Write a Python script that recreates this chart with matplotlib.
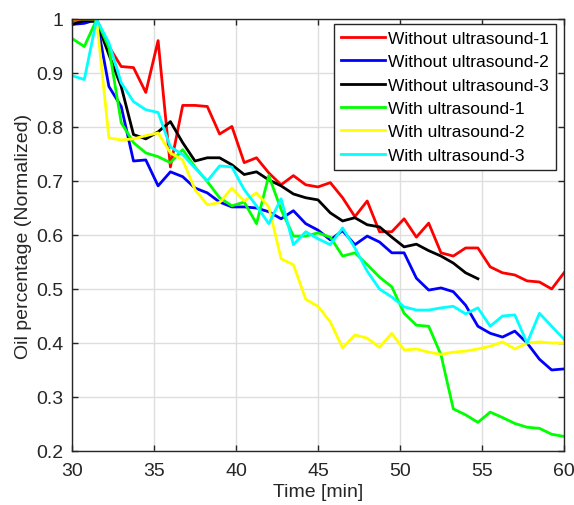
import matplotlib
matplotlib.use('Agg')
import matplotlib.pyplot as plt

# time axis (min)
time = [30.0, 30.75, 31.5, 32.25, 33.0, 33.75, 34.5, 35.25, 36.0, 36.75,
        37.5, 38.25, 39.0, 39.75, 40.5, 41.25, 42.0, 42.75, 43.5, 44.25,
        45.0, 45.75, 46.5, 47.25, 48.0, 48.75, 49.5, 50.25, 51.0, 51.75,
        52.5, 53.25, 54.0, 54.75, 55.5, 56.25, 57.0, 57.75, 58.5, 59.25, 60.0]

without_1 = [0.997, 0.999, 0.999, 0.949, 0.912, 0.910, 0.864, 0.960, 0.726, 0.840,
             0.840, 0.838, 0.787, 0.801, 0.734, 0.743, 0.715, 0.693, 0.710, 0.693,
             0.689, 0.697, 0.669, 0.634, 0.663, 0.606, 0.606, 0.630, 0.596, 0.622,
             0.567, 0.561, 0.576, 0.576, 0.541, 0.530, 0.526, 0.515, 0.513, 0.500, 0.530]
without_2 = [0.990, 0.992, 0.999, 0.875, 0.838, 0.737, 0.739, 0.691, 0.717, 0.708,
             0.687, 0.678, 0.661, 0.652, 0.652, 0.650, 0.643, 0.630, 0.645, 0.621,
             0.609, 0.591, 0.608, 0.582, 0.598, 0.587, 0.567, 0.567, 0.520, 0.498,
             0.502, 0.495, 0.470, 0.431, 0.418, 0.411, 0.422, 0.400, 0.370, 0.350, 0.352]
without_3 = [0.990, 0.997, 0.995, 0.934, 0.875, 0.786, 0.778, 0.791, 0.810, 0.771,
             0.737, 0.743, 0.743, 0.730, 0.712, 0.717, 0.702, 0.691, 0.676, 0.669,
             0.665, 0.641, 0.626, 0.632, 0.619, 0.615, 0.596, 0.578, 0.583, 0.571,
             0.561, 0.548, 0.530, 0.519]
with_1 = [0.964, 0.949, 0.999, 0.947, 0.808, 0.771, 0.752, 0.745, 0.734, 0.758,
          0.726, 0.699, 0.669, 0.654, 0.661, 0.621, 0.710, 0.647, 0.598, 0.598,
          0.604, 0.596, 0.561, 0.567, 0.545, 0.522, 0.504, 0.455, 0.433, 0.431,
          0.378, 0.278, 0.267, 0.253, 0.272, 0.262, 0.251, 0.244, 0.242, 0.231, 0.227]
with_2 = [1.000, 1.000, 1.000, 0.780, 0.776, 0.778, 0.784, 0.789, 0.752, 0.739,
          0.684, 0.656, 0.660, 0.687, 0.663, 0.678, 0.652, 0.556, 0.545, 0.481,
          0.468, 0.439, 0.391, 0.415, 0.409, 0.392, 0.418, 0.387, 0.389, 0.383,
          0.379, 0.383, 0.385, 0.389, 0.394, 0.402, 0.389, 0.400, 0.402, 0.400, 0.400]
with_3 = [0.895, 0.888, 0.999, 0.956, 0.882, 0.847, 0.832, 0.827, 0.763, 0.749,
          0.724, 0.700, 0.728, 0.726, 0.684, 0.654, 0.621, 0.667, 0.582, 0.606,
          0.593, 0.582, 0.613, 0.576, 0.533, 0.500, 0.485, 0.467, 0.461, 0.461,
          0.465, 0.468, 0.454, 0.465, 0.431, 0.450, 0.452, 0.400, 0.455, 0.431, 0.407]

series = [without_1, without_2, without_3, with_1, with_2, with_3]
labels = ['Without ultrasound-1', 'Without ultrasound-2', 'Without ultrasound-3',
          'With ultrasound-1', 'With ultrasound-2', 'With ultrasound-3']
colors = ['#ff0000', '#0000ff', '#000000', '#00ff00', '#ffff00', '#00ffff']

plt.rcParams['font.family'] = ['Liberation Sans', 'DejaVu Sans']

fig = plt.figure(figsize=(5.74, 5.06), dpi=100)
ax = fig.add_axes([72 / 574, 1 - 452 / 506, 492 / 574, 432 / 506])

for ys, lab, c in zip(series, labels, colors):
    ax.plot(time[:len(ys)], ys, color=c, lw=2.0, label=lab)

ax.set_xlim(30, 60)
ax.set_ylim(0.2, 1.0)
ax.set_xticks([30, 35, 40, 45, 50, 55, 60])
ax.set_yticks([0.2, 0.3, 0.4, 0.5, 0.6, 0.7, 0.8, 0.9, 1.0])
ax.set_yticklabels(['0.2', '0.3', '0.4', '0.5', '0.6', '0.7', '0.8', '0.9', '1'])

ax.grid(True, color='#dedede', lw=1.0)
ax.set_axisbelow(True)
ax.tick_params(direction='in', top=True, right=True, length=4, width=1,
               color='#262626', labelsize=14, labelcolor='#262626')
ax.tick_params(axis='x', pad=8)
ax.tick_params(axis='y', pad=6)
for s in ax.spines.values():
    s.set_color('#262626')
    s.set_linewidth(1.0)

ax.set_xlabel('Time [min]', fontsize=14, color='#262626', labelpad=3)
ax.set_ylabel('Oil percentage (Normalized)', fontsize=14, color='#262626', labelpad=3)

leg = ax.legend(loc='upper right', bbox_to_anchor=(556 / 574, 1 - 25 / 506),
                bbox_transform=fig.transFigure, borderaxespad=0, fontsize=12.5,
                fancybox=False, framealpha=1, edgecolor='#262626',
                handlelength=2.5, handletextpad=0.2, labelspacing=0.47,
                borderpad=0.4)
leg.get_frame().set_linewidth(1.0)

fig.savefig('out.png', dpi=100)
